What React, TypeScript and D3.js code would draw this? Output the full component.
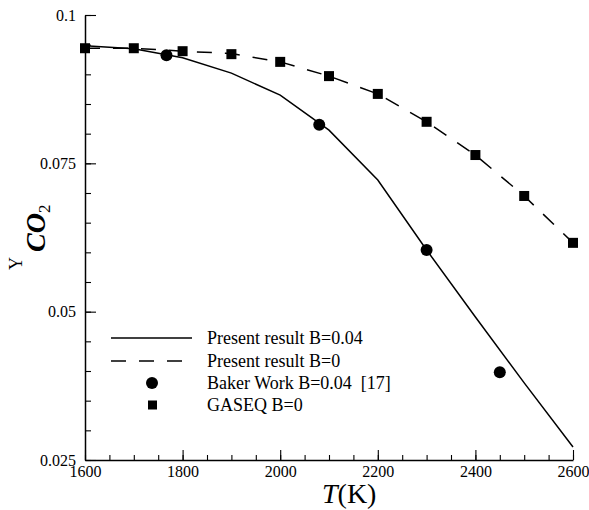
import React, { useEffect, useRef } from "react";
import * as d3 from "d3";

// temperatures (K)
const temps = [1600, 1700, 1800, 1900, 2000, 2100, 2200, 2300, 2400, 2500, 2600];
// Present result B=0.04 (solid)
const presentB004 = [0.0948, 0.0943, 0.0928, 0.0902, 0.0865, 0.0806, 0.0722, 0.0604, 0.0491, 0.038, 0.0272];
// Present result B=0 (dashed) and GASEQ B=0 (squares)
const presentB0 = [0.0944, 0.0944, 0.0939, 0.0935, 0.0921, 0.0897, 0.0867, 0.082, 0.0764, 0.0695, 0.0616];
const gaseqB0 = [0.0944, 0.0944, 0.0939, 0.0934, 0.0921, 0.0897, 0.0867, 0.082, 0.0764, 0.0695, 0.0616];
// Baker Work B=0.04 [17]
const bakerT = [1767, 2080, 2300, 2450];
const bakerY = [0.0932, 0.0815, 0.0604, 0.0398];

const xTicks = [1600, 1800, 2000, 2200, 2400, 2600];
const yTicks = [0.025, 0.05, 0.075, 0.1];

const legendLabels = ["Present result B=0.04", "Present result B=0", "Baker Work B=0.04  [17]", "GASEQ B=0"];

export default function App() {
  const ref = useRef<SVGSVGElement>(null);

  useEffect(() => {
    const svg = d3.select(ref.current);
    svg.selectAll("*").remove();
    const font = "Liberation Serif, Times New Roman, serif";

    const x = d3.scaleLinear().domain([1600, 2600]).range([85, 573]);
    const y = d3.scaleLinear().domain([0.025, 0.1]).range([460, 15]);

    // minor ticks
    svg.append("g")
      .attr("transform", "translate(0,460)")
      .call(d3.axisBottom(x).tickValues(d3.range(1600, 2601, 50)).tickSize(-5).tickSizeOuter(0).tickFormat(() => ""))
      .call((g) => g.select(".domain").remove());
    svg.append("g")
      .attr("transform", "translate(85,0)")
      .call(d3.axisLeft(y).tickValues(d3.range(0, 16).map((i) => 0.025 + i * 0.005)).tickSize(-6).tickSizeOuter(0).tickFormat(() => ""))
      .call((g) => g.select(".domain").remove());

    // major axes
    const gx = svg.append("g")
      .attr("transform", "translate(0,460)")
      .call(d3.axisBottom(x).tickValues(xTicks).tickSizeInner(-10).tickSizeOuter(0).tickPadding(6).tickFormat(d3.format("d")));
    const gy = svg.append("g")
      .attr("transform", "translate(85,0)")
      .call(d3.axisLeft(y).tickValues(yTicks).tickSizeInner(-11).tickSizeOuter(0).tickPadding(9).tickFormat((d) => String(d)));
    for (const g of [gx, gy]) {
      g.attr("font-family", null).attr("font-size", null);
      g.selectAll("text").style("font-family", font).style("font-size", "16px").attr("fill", "#000");
      g.select(".domain").attr("stroke", "#000").attr("stroke-width", 1.5);
    }
    svg.selectAll(".tick line").attr("stroke", "#000").attr("stroke-width", 1.1);

    const line = d3.line<number>().x((_, i) => x(temps[i])).y((d) => y(d));
    svg.append("path").attr("d", line(presentB004)).attr("fill", "none").attr("stroke", "#000").attr("stroke-width", 1.5);
    svg.append("path").attr("d", line(presentB0)).attr("fill", "none").attr("stroke", "#000").attr("stroke-width", 1.5).attr("stroke-dasharray", "15 13");

    svg.append("g").selectAll("rect").data(gaseqB0).join("rect")
      .attr("x", (_, i) => x(temps[i]) - 5).attr("y", (d) => y(d) - 5)
      .attr("width", 10).attr("height", 10).attr("fill", "#000");
    svg.append("g").selectAll("circle").data(bakerY).join("circle")
      .attr("cx", (_, i) => x(bakerT[i])).attr("cy", (d) => y(d)).attr("r", 6).attr("fill", "#000");

    // legend
    const leg = svg.append("g");
    const ly = [338, 361, 383, 405];
    leg.append("line").attr("x1", 111).attr("x2", 192).attr("y1", ly[0]).attr("y2", ly[0]).attr("stroke", "#000").attr("stroke-width", 1.5);
    leg.append("line").attr("x1", 111).attr("x2", 192).attr("y1", ly[1]).attr("y2", ly[1]).attr("stroke", "#000").attr("stroke-width", 1.5).attr("stroke-dasharray", "15 13");
    leg.append("circle").attr("cx", 152).attr("cy", ly[2]).attr("r", 6).attr("fill", "#000");
    leg.append("rect").attr("x", 148).attr("y", ly[3] - 4.5).attr("width", 9).attr("height", 9).attr("fill", "#000");
    leg.selectAll("text").data(legendLabels).join("text")
      .attr("x", 207).attr("y", (_, i) => ly[i] + 6)
      .style("font-family", font).style("font-size", "18px").style("white-space", "pre").attr("fill", "#000")
      .text((d) => d);

    // axis titles
    const xt = svg.append("text").attr("x", 322).attr("y", 503).style("font-family", font).style("font-size", "28px").attr("fill", "#000");
    xt.append("tspan").attr("font-style", "italic").text("T");
    xt.append("tspan").text("(K)");

    const yt = svg.append("text").attr("transform", "translate(45,270) rotate(-90)").style("font-family", font).attr("fill", "#000");
    yt.append("tspan").style("font-size", "18px").attr("dy", -23).text("Y");
    yt.append("tspan").style("font-size", "28px").attr("font-style", "italic").attr("font-weight", 600).attr("dx", 5).attr("dy", 23).text("CO");
    yt.append("tspan").style("font-size", "17px").attr("dy", 5).text("2");
  }, []);

  return (
    <svg ref={ref} width={589} height={510} style={{ position: "absolute", left: 0, top: 0, background: "#fff" }} />
  );
}
